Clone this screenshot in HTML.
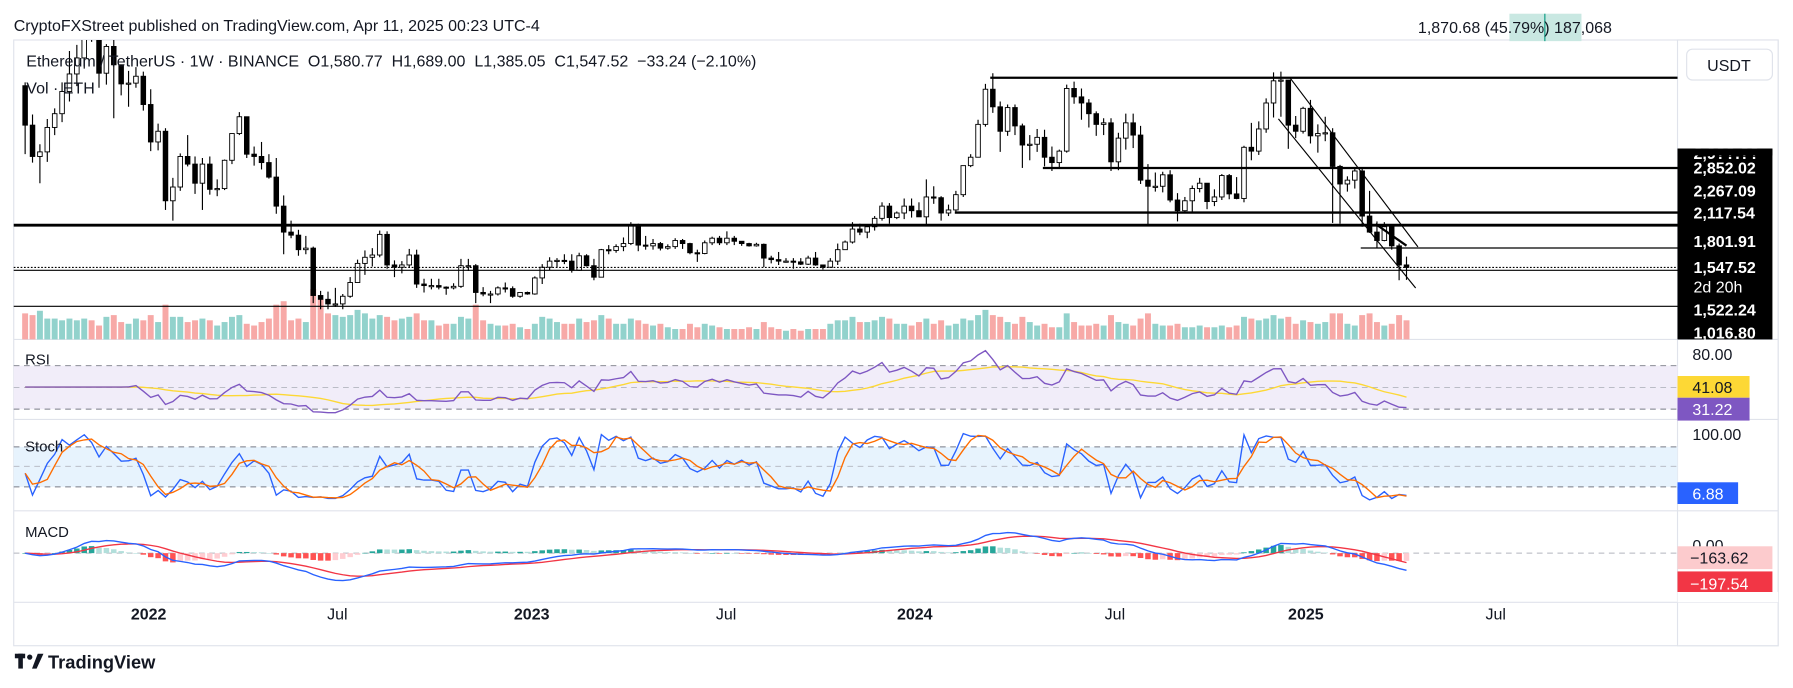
<!DOCTYPE html>
<html><head><meta charset="utf-8"><style>
html,body{margin:0;padding:0;background:#fff;overflow:hidden}
svg{display:block;font-family:"Liberation Sans","DejaVu Sans",sans-serif}
</style></head><body>
<svg id="c" width="1793" height="688" viewBox="0 0 1568 602" preserveAspectRatio="none" xmlns="http://www.w3.org/2000/svg">
<defs><clipPath id="mainclip"><rect x="12" y="35" width="1455" height="262"/></clipPath></defs>
<text x="12" y="27" font-size="14" fill="#131722">CryptoFXStreet published on TradingView.com, Apr 11, 2025 00:23 UTC-4</text>
<rect x="12" y="35" width="1543" height="530" fill="#fff" stroke="#e0e3eb"/>
<rect x="1467" y="35" width="88" height="530" fill="#fff" stroke="#e0e3eb"/>
<g stroke="#e0e3eb">
<line x1="12" y1="297" x2="1555" y2="297"/><line x1="12" y1="367" x2="1555" y2="367"/>
<line x1="12" y1="447" x2="1555" y2="447"/><line x1="12" y1="527" x2="1555" y2="527"/>
</g>
<rect x="12" y="320" width="1455" height="38" fill="#f1edf9"/>
<rect x="12" y="391" width="1455" height="35" fill="#e7f3fd"/>
<g stroke="#787b86" stroke-dasharray="5,4" stroke-width="0.8">
<line x1="12" y1="320" x2="1467" y2="320"/><line x1="12" y1="339" x2="1467" y2="339" stroke="#b2b5be"/><line x1="12" y1="358" x2="1467" y2="358"/>
<line x1="12" y1="391" x2="1467" y2="391"/><line x1="12" y1="408" x2="1467" y2="408" stroke="#b2b5be"/><line x1="12" y1="426" x2="1467" y2="426"/>
<line x1="12" y1="484" x2="1467" y2="484" stroke="#b2b5be"/>
</g>
<g id="vol"></g>
<g id="candles" clip-path="url(#mainclip)"></g>
<g stroke="#000">
<line x1="866" y1="68" x2="1467" y2="68" stroke-width="2"/>
<line x1="912" y1="147" x2="1467" y2="147" stroke-width="2"/>
<line x1="835" y1="186" x2="1467" y2="186" stroke-width="2"/>
<line x1="12" y1="197" x2="1467" y2="197" stroke-width="2.5"/>
<line x1="1190" y1="217" x2="1467" y2="217" stroke-width="1"/>
<line x1="12" y1="234" x2="1467" y2="234" stroke-width="1" stroke-dasharray="1.5,1.5"/>
<line x1="12" y1="236.5" x2="1467" y2="236.5" stroke-width="1"/>
<line x1="12" y1="268" x2="1467" y2="268" stroke-width="1"/>
<line x1="1128" y1="68" x2="1240" y2="216" stroke-width="1"/>
<line x1="1118" y1="104" x2="1238" y2="252" stroke-width="1"/>
<line x1="1203" y1="196" x2="1230" y2="215" stroke-width="2"/>
</g>
<g id="rsi"></g>
<g id="stoch"></g>
<g id="macd"></g>
<text x="23" y="58" font-size="14" fill="#131722">Ethereum / TetherUS · 1W · BINANCE &#160;O1,580.77 &#160;H1,689.00 &#160;L1,385.05 &#160;C1,547.52 &#160;−33.24 (−2.10%)</text>
<text x="23" y="82" font-size="14" fill="#131722">Vol · ETH</text>
<text x="22" y="319" font-size="13" fill="#131722">RSI</text>
<text x="22" y="395" font-size="13" fill="#131722">Stoch</text>
<text x="22" y="470" font-size="13" fill="#131722">MACD</text>
<rect x="1320" y="12" width="63" height="24" fill="#c9e8e2"/>
<line x1="1351" y1="12" x2="1351" y2="36" stroke="#089981"/>
<text x="1240" y="29" font-size="14" fill="#131722">1,870.68 (45.79%) 187,068</text>
<rect x="1475" y="43" width="75" height="27" rx="5" fill="#fff" stroke="#e0e3eb"/>
<text x="1512" y="62" font-size="14" text-anchor="middle" fill="#131722">USDT</text>
<rect x="1467" y="130" width="83" height="167" fill="#000"/>
<g font-size="14" fill="#fff" font-weight="bold">
<text x="1481" y="139">2,9??.??</text>
<text x="1481" y="152">2,852.02</text><text x="1481" y="172">2,267.09</text><text x="1481" y="191">2,117.54</text>
<text x="1481" y="216">1,801.91</text><text x="1481" y="239">1,547.52</text><text x="1481" y="256" font-weight="normal">2d 20h</text>
<text x="1481" y="276">1,522.24</text><text x="1481" y="296">1,016.80</text>
</g>
<rect x="1467" y="130" width="83" height="6" fill="#000"/>
<text x="1480" y="315" font-size="14" fill="#131722">80.00</text>
<rect x="1467" y="329" width="63" height="19" fill="#fdd835"/>
<text x="1480" y="344" font-size="14" fill="#131722">41.08</text>
<rect x="1467" y="348" width="63" height="20" fill="#7e57c2"/>
<text x="1480" y="363" font-size="14" fill="#fff">31.22</text>
<text x="1480" y="385" font-size="14" fill="#131722">100.00</text>
<rect x="1467" y="422" width="53" height="19" fill="#2962ff"/>
<text x="1480" y="437" font-size="14" fill="#fff">6.88</text>
<text x="1480" y="482" font-size="14" fill="#131722">0.00</text>
<rect x="1467" y="478" width="83" height="20" fill="#fccbcd"/>
<text x="1478" y="493" font-size="14" fill="#131722">−163.62</text>
<rect x="1467" y="500" width="83" height="18" fill="#f23645"/>
<text x="1478" y="516" font-size="14" fill="#fff">−197.54</text>
<rect x="1467" y="518" width="88" height="9" fill="#fff"/>
<g font-size="14" fill="#131722" text-anchor="middle">
<text x="130" y="542" font-weight="bold">2022</text><text x="295" y="542">Jul</text>
<text x="465" y="542" font-weight="bold">2023</text><text x="635" y="542">Jul</text>
<text x="800" y="542" font-weight="bold">2024</text><text x="975" y="542">Jul</text>
<text x="1142" y="542" font-weight="bold">2025</text><text x="1308" y="542">Jul</text>
</g>
<g>
<rect x="13" y="572" width="9" height="4" fill="#131722"/><rect x="16" y="572" width="4" height="13" fill="#131722"/>
<circle cx="26" cy="575" r="2.3" fill="#131722"/><polygon points="28,585 33,572 38,572 32,585" fill="#131722"/>
<text x="42" y="585" font-size="16" font-weight="bold" fill="#131722">TradingView</text>
</g>
</svg>
<script>
const closes=[3410,3000,3060,3380,3560,3850,4080,4290,4730,4570,4090,4440,4200,3950,3960,4050,3680,
3190,3330,2420,2600,3000,2900,2650,2900,2570,2580,2950,3300,3520,3030,3000,2920,2730,2350,2010,1970,1780,1800,1180,1130,1070,1070,1170,1350,1600,1680,1710,1980,1580,1550,1580,1710,1330,1310,1310,1290,1280,1300,1570,1570,1220,1200,1200,1280,1270,1170,1220,1200,
1410,1550,1630,1640,1630,1510,1700,1570,1420,1780,1770,1820,1860,2090,1840,1830,1860,1800,1820,1900,1860,1740,1730,1870,1930,1870,1930,1890,1860,1830,1850,1670,1650,1630,1630,1620,1590,1670,1580,1550,1630,1780,1880,2050,2010,2080,2190,2350,2200,2260,2350,2290,
2210,2470,2460,2260,2300,2500,2880,2990,3420,3880,3650,3330,3640,3400,3150,3160,3250,2990,2920,3070,3890,3780,3700,3560,3420,3440,2930,3240,3440,3280,2690,2610,2610,2760,2430,2290,2420,2580,2650,2410,2470,2750,2510,2450,3120,3070,3360,3700,3990,4000,3410,3330,
3630,3270,3300,3310,2870,2640,2690,2810,2220,2010,1900,2080,1830,1580,1547.52];
const highs=[3970,3550,3160,3490,3630,3970,4380,4460,4770,4870,4390,4470,4780,4200,4120,4170,4110,
3880,3430,3370,2720,3040,3280,3000,2980,3000,2700,2960,3150,3580,3520,3130,3190,3030,2980,2490,2160,2040,1960,1820,1240,1230,1280,1200,1420,1650,1770,1800,2030,2020,1640,1630,1790,1780,1400,1400,1400,1300,1340,1660,1660,1590,1290,1240,1300,1350,1300,1220,1230,
1430,1590,1680,1670,1720,1720,1740,1720,1660,1790,1840,1850,1940,2140,2120,1960,1920,1880,1850,1930,1920,1870,1780,1900,1950,1960,2020,1960,1880,1870,1870,1860,1700,1750,1670,1670,1670,1700,1750,1580,1670,1860,1900,2140,2120,2090,2220,2400,2390,2280,2450,2450,
2400,2700,2610,2480,2370,2550,2870,3030,3480,3950,4090,3720,3680,3680,3430,3280,3360,3350,3130,3090,3940,3980,3890,3750,3590,3500,3500,3310,3560,3560,3400,2900,2790,2800,2820,2520,2470,2620,2720,2640,2570,2770,2770,2730,3140,3440,3460,3760,4100,4110,4000,3530,
3650,3740,3420,3520,3370,2890,2740,2860,2860,2550,2150,2140,2100,1860,1689];
const lows=[3030,2920,2650,2930,3280,3450,3720,3920,4150,4500,3900,3940,3500,3800,3650,3900,3600,
3070,3080,2300,2160,2550,2870,2510,2300,2500,2480,2560,2900,3280,2980,2880,2830,2710,2250,1720,1930,1700,1720,1080,1000,1000,1030,1000,1150,1350,1450,1560,1680,1530,1420,1470,1540,1280,1220,1260,1260,1190,1260,1280,1500,1080,1170,1080,1180,1220,1150,1150,1190,
1190,1330,1510,1540,1590,1480,1500,1560,1380,1430,1720,1740,1760,1840,1760,1780,1780,1770,1780,1790,1790,1720,1620,1720,1840,1840,1840,1840,1830,1820,1820,1550,1600,1580,1610,1530,1580,1580,1570,1520,1550,1580,1780,1860,1970,1930,2030,2160,2120,2180,2180,2200,
2210,2100,2380,2160,2220,2280,2470,2860,3000,3390,3570,3060,3270,3280,2850,2950,3060,2870,2810,2860,3050,3690,3480,3380,3270,3280,2810,2820,3090,3110,2640,2110,2540,2530,2400,2150,2270,2280,2530,2310,2350,2430,2440,2440,2400,2950,3020,3310,3510,3520,3100,3240,
3300,3170,3050,3200,2130,2120,2540,2580,2080,2000,1800,1890,1780,1380,1385.05];
const volumes=[30,28,33,24,24,22,24,22,24,22,16,26,28,20,18,24,22,
28,20,40,26,26,20,22,24,22,16,20,26,28,18,16,20,24,40,44,22,24,20,58,46,30,28,26,28,34,30,24,28,26,22,24,26,30,22,22,16,18,18,26,24,40,22,18,16,16,18,14,12,
18,26,24,20,18,18,24,20,22,28,24,18,18,24,22,18,16,18,14,12,12,18,14,18,16,14,12,12,12,14,12,20,14,12,10,12,10,12,12,12,18,22,22,26,20,20,22,26,24,18,18,16,
20,24,18,22,16,18,24,22,28,34,28,26,20,18,26,20,16,18,14,14,30,20,16,16,18,16,28,20,18,16,24,30,18,16,16,18,14,14,16,14,14,16,14,16,26,24,22,24,28,24,26,18,
22,20,18,20,30,30,18,16,28,30,20,16,18,28,22];
const firstOpen=3926;

const NS="http://www.w3.org/2000/svg";
const N=closes.length, STEP=6.46, LASTX=1230;
const xAt=i=>LASTX-(N-1-i)*STEP;
const yP=p=>234-(p-1547.52)/14.96;
const yVol=v=>297-v*0.76;
const yRsi=v=>339-(v-50)*0.95;
const ySto=v=>408.5-(v-50)*0.583;
function el(tag,attrs,parent){const e=document.createElementNS(NS,tag);for(const k in attrs)e.setAttribute(k,attrs[k]);parent.appendChild(e);return e;}
const opens=closes.map((c,i)=>i===0?firstOpen:closes[i-1]);

const gv=document.getElementById('vol');
volumes.forEach((v,i)=>{
  const up=closes[i]>=opens[i];
  const r=el('rect',{x:xAt(i)-2.6,y:yVol(v),width:5.2,height:297-yVol(v),fill:up?'#92d2cc':'#f7a9a7'},gv);
  
  
});
const gc=document.getElementById('candles');
closes.forEach((c,i)=>{
  const o=opens[i],x=xAt(i),up=c>=o;
  const hi=Math.max(highs[i],o,c),lo=Math.min(lows[i],o,c);
  const w=el('line',{x1:x,x2:x,y1:yP(hi),y2:yP(lo),stroke:'#000','stroke-width':1},gc);
  
  
  const top=yP(Math.max(o,c)),bot=yP(Math.min(o,c));
  const b=el('rect',{x:x-2,y:top,width:4,height:Math.max(1,bot-top),fill:up?'#fff':'#000',stroke:'#000','stroke-width':0.8},gc);
  
  
});
function poly(vals,yf,color,parent,name,w){
  const pts=[];vals.forEach((v,i)=>{if(v!=null&&!isNaN(v))pts.push(xAt(i).toFixed(1)+','+yf(v).toFixed(1));});
  const p=el('polyline',{points:pts.join(' '),fill:'none',stroke:color,'stroke-width':w||1.2},parent);
  
  
}
// RSI with seeded averages from first 14 bars
const chg=closes.map((c,i)=>c-opens[i]);
let ag=0,al=0;
for(let i=0;i<14;i++){ag+=Math.max(chg[i],0)/14;al+=Math.max(-chg[i],0)/14;}
const seedRsi=100-100/(1+ag/al);
const rsi=[];
for(let i=0;i<N;i++){
  if(i<14){rsi.push(seedRsi);continue;}
  ag=(ag*13+Math.max(chg[i],0))/14;al=(al*13+Math.max(-chg[i],0))/14;
  rsi.push(al===0?100:100-100/(1+ag/al));
}
const rsiMa=rsi.map((v,i)=>{const s=rsi.slice(Math.max(0,i-13),i+1);return s.reduce((a,b)=>a+b,0)/s.length;});
const gr=document.getElementById('rsi');
poly(rsiMa,yRsi,'#fdd835',gr,'rsi-ma-line');
poly(rsi,yRsi,'#7e57c2',gr,'rsi-line');
const kRaw=closes.map((c,i)=>{const a=Math.max(0,i-13);let h=-1e9,l=1e9;for(let j=a;j<=i;j++){h=Math.max(h,highs[j],closes[j]);l=Math.min(l,lows[j],closes[j]);}return h===l?50:(c-l)/(h-l)*100;});
const sm=(arr,n)=>arr.map((v,i)=>{const s=arr.slice(Math.max(0,i-n+1),i+1);return s.reduce((a,b)=>a+b,0)/s.length;});
const kLine=sm(kRaw,1),dLine=sm(kLine,3);
const gs=document.getElementById('stoch');
poly(kLine,ySto,'#2962ff',gs,'stoch-k-line');
poly(dLine,ySto,'#ff6d00',gs,'stoch-d-line');
const ema=(arr,n)=>{const k=2/(n+1);const out=[];arr.forEach((v,i)=>out.push(i===0?v:v*k+out[i-1]*(1-k)));return out;};
const e12=ema(closes,12),e26=ema(closes,26);
const macd=closes.map((c,i)=>e12[i]-e26[i]);
const sig=ema(macd,9);
const hist=macd.map((m,i)=>m-sig[i]);
const mx=Math.max(...macd.map(Math.abs),...sig.map(Math.abs));
const yM=v=>484-v*(24/mx);
const gm=document.getElementById('macd');
hist.forEach((h,i)=>{
  const prev=i>0?hist[i-1]:0;
  const col=h>=0?(h>=prev?'#26a69a':'#b2dfdb'):(h<prev?'#ff5252':'#ffcdd2');
  const y1=Math.min(yM(h),484),hh=Math.abs(yM(h)-484);
  const r=el('rect',{x:xAt(i)-2.4,y:y1,width:4.8,height:Math.max(hh,0.5),fill:col},gm);
  
  
});
poly(sig,yM,'#f23645',gm,'macd-signal-line');
poly(macd,yM,'#2962ff',gm,'macd-line');
</script>
</body></html>
